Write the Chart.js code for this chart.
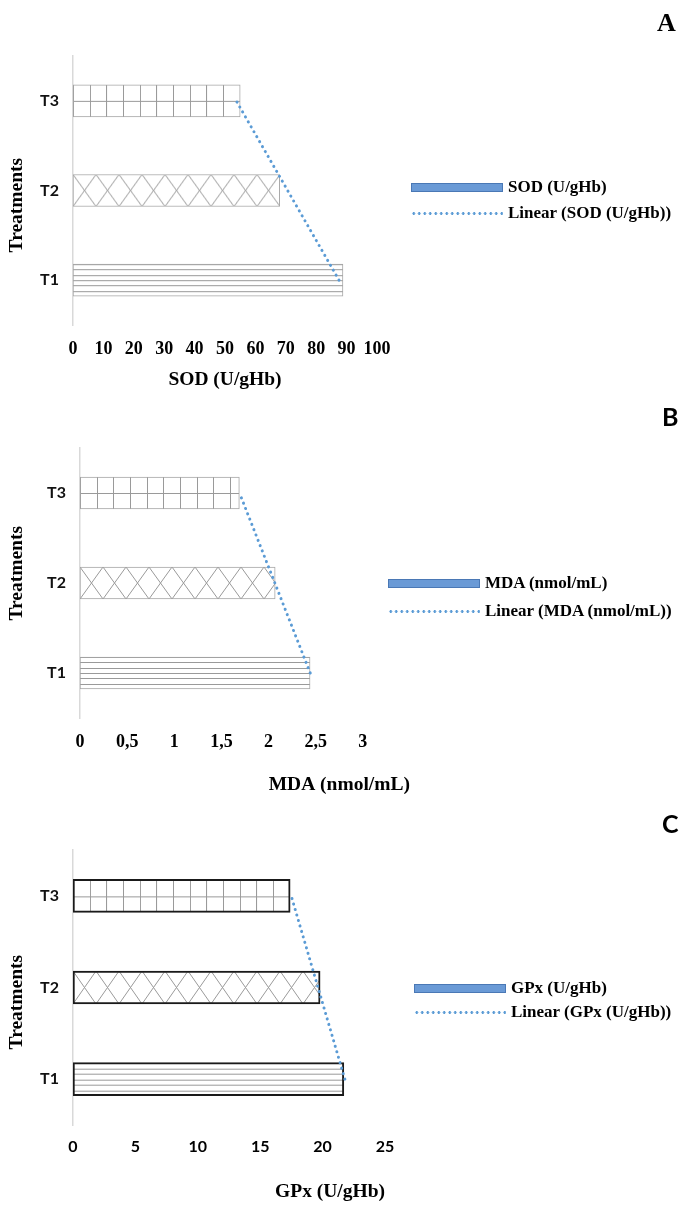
<!DOCTYPE html>
<html lang="en">
<head>
<meta charset="UTF-8">
<title>SOD, MDA and GPx by treatment</title>
<script src="https://cdn.jsdelivr.net/npm/chart.js"></script>
<style>
  body { margin: 0; background: #fff; }
  #page { position: relative; width: 684px; height: 1207px; overflow: hidden; }
  #page canvas { position: absolute; left: 0; }
  .tag { position: absolute; line-height: 1; color: #000; }
  .legend-row { position: absolute; display: flex; align-items: center; height: 20px;
                font: bold 17px "Liberation Serif", "Times New Roman", serif; color: #000; white-space: nowrap; }
  .swatch-bar { width: 92px; height: 9px; box-sizing: border-box; margin-right: 5px;
                background: #6a9ad6; border: 1px solid #4a78b5; }
  .swatch-dots { width: 92px; height: 3px; margin-right: 5px;
                 background: radial-gradient(circle, #5b9bd5 1.2px, transparent 1.6px) 0 0 / 5.5px 3px repeat-x; }
</style>
</head>
<body>
<div id="page">
  <canvas id="chartA" width="684" height="400" style="top:0px"></canvas>
  <canvas id="chartB" width="684" height="410" style="top:400px"></canvas>
  <canvas id="chartC" width="684" height="397" style="top:810px"></canvas>

  <div class="tag" style="left:657px;top:8px;font:bold 26px 'Liberation Serif',serif">A</div>
  <div class="tag" style="left:662px;top:401px;font:bold 25px Lato,sans-serif">B</div>
  <div class="tag" style="left:662px;top:808px;font:bold 25px Lato,sans-serif">C</div>

  <div id="legendA"></div>
  <div id="legendB"></div>
  <div id="legendC"></div>
</div>

<script>
// data (order T1, T2, T3)
const treatments = ['T1', 'T2', 'T3'];
const treatmentHatch = ['lines', 'diamonds', 'grid'];

const sodValues = [88.8, 68.0, 55.0];
const mdaValues = [2.44, 2.07, 1.69];
const gpxValues = [21.7, 19.8, 17.4];

const sodTicks = [0, 10, 20, 30, 40, 50, 60, 70, 80, 90, 100];
const mdaTicks = [0, 0.5, 1, 1.5, 2, 2.5, 3];
const gpxTicks = [0, 5, 10, 15, 20, 25];

const FONT_SERIF = "'Liberation Serif', 'Times New Roman', serif";
const FONT_SANS = "Lato, 'Liberation Sans', sans-serif";
const TITLE_SIZE = 19.5;

// panel setup (page pixel positions)
const panels = [
  {
    canvas: 'chartA', legend: 'legendA', top: 0,
    name: 'SOD (U/gHb)', values: sodValues, ticks: sodTicks, max: 100,
    area: { left: 73, right: 377, top: 56, bottom: 325 },
    tickFont: { family: FONT_SERIF, size: 18, weight: 'bold' }, tickPad: 6,
    titleY: 380, titleAlign: 'center', yTitle: 'Treatments' + '\u2002'.repeat(3),
    barSize: 32, edge: '#a6a6a6', edgeWidth: 1,
    legendPos: { left: 411, rows: [187, 213] }
  },
  {
    canvas: 'chartB', legend: 'legendB', top: 400,
    name: 'MDA (nmol/mL)', values: mdaValues, ticks: mdaTicks, max: 3.5,
    area: { left: 80, right: 410, top: 448, bottom: 718 },
    tickFont: { family: FONT_SERIF, size: 18, weight: 'bold' }, tickPad: 6,
    titleY: 785, titleAlign: 'end', yTitle: '\u2002'.repeat(2) + 'Treatments',
    barSize: 32, edge: '#a6a6a6', edgeWidth: 1,
    legendPos: { left: 388, rows: [583, 611] }
  },
  {
    canvas: 'chartC', legend: 'legendC', top: 810,
    name: 'GPx (U/gHb)', values: gpxValues, ticks: gpxTicks, max: 25,
    area: { left: 73, right: 385, top: 850, bottom: 1125 },
    tickFont: { family: FONT_SANS, size: 16, weight: 'bold' }, tickPad: 4,
    titleY: 1192, titleAlign: 'end', yTitle: 'Treatments' + '\u2002'.repeat(3),
    barSize: 33, edge: '#1a1a1a', edgeWidth: 2,
    legendPos: { left: 414, rows: [988, 1012] }
  }
];

// Excel style linear trendline (least squares over the category index)
function linearTrend(vals) {
  const n = vals.length;
  const xs = vals.map((v, i) => i + 1);
  const mx = xs.reduce((a, b) => a + b, 0) / n;
  const my = vals.reduce((a, b) => a + b, 0) / n;
  let sxy = 0, sxx = 0;
  xs.forEach((x, i) => {
    sxy += (x - mx) * (vals[i] - my);
    sxx += (x - mx) * (x - mx);
  });
  const slope = sxy / sxx;
  return xs.map(x => my + slope * (x - mx));
}

// hatch tiles like the Excel pattern fills
function makeTile(kind, h) {
  const t = document.createElement('canvas');
  t.width = kind === 'grid' ? 50 : kind === 'diamonds' ? 23 : 4;
  t.height = h;
  const g = t.getContext('2d');
  g.fillStyle = '#fff';
  g.fillRect(0, 0, t.width, h);
  g.strokeStyle = '#9a9a9a';
  g.lineWidth = 1;
  g.beginPath();
  if (kind === 'grid') {
    [0, 17, 33].forEach(x => { g.moveTo(x + 0.5, 0); g.lineTo(x + 0.5, h); });
    const mid = Math.round(h / 2) + 0.5;
    g.moveTo(0, mid); g.lineTo(t.width, mid);
  } else if (kind === 'diamonds') {
    [-23, 0, 23].forEach(dx => {
      g.moveTo(dx, 0); g.lineTo(dx + 23, h);
      g.moveTo(dx + 23, 0); g.lineTo(dx, h);
    });
  } else {
    for (let k = 0; k < 6; k++) {
      const y = Math.round(k * h / 6) + 0.5;
      g.moveTo(0, y); g.lineTo(t.width, y);
    }
  }
  g.stroke();
  return t;
}

function hatchFill(h) {
  const tiles = {};
  treatmentHatch.forEach(k => { tiles[k] = makeTile(k, h); });
  return function (ctx) {
    const chart = ctx.chart;
    const xs = chart.scales.x, ys = chart.scales.y;
    if (ctx.dataIndex === undefined || !xs || !ys) return '#fff';
    const p = chart.ctx.createPattern(tiles[treatmentHatch[ctx.dataIndex]], 'repeat');
    const y0 = ys.getPixelForValue(ctx.dataIndex) - h / 2;
    p.setTransform(new DOMMatrix().translate(xs.getPixelForValue(0), y0));
    return p;
  };
}

function buildLegend(chart, el, pos) {
  chart.data.datasets.forEach((ds, i) => {
    const row = document.createElement('div');
    row.className = 'legend-row';
    row.style.left = pos.left + 'px';
    row.style.top = (pos.rows[i] - 10) + 'px';
    const sw = document.createElement('span');
    sw.className = ds.type === 'line' ? 'swatch-dots' : 'swatch-bar';
    row.appendChild(sw);
    row.appendChild(document.createTextNode(ds.label));
    el.appendChild(row);
  });
}

panels.forEach(p => {
  const canvas = document.getElementById(p.canvas);
  const bottom = p.top + canvas.height;
  const lh = TITLE_SIZE * 1.2;

  const chart = new Chart(canvas, {
    type: 'bar',
    data: {
      labels: treatments,
      datasets: [
        {
          type: 'bar',
          label: p.name,
          data: p.values,
          backgroundColor: hatchFill(p.barSize),
          borderColor: p.edge,
          borderWidth: p.edgeWidth,
          borderSkipped: false,
          barThickness: p.barSize,
          order: 2
        },
        {
          type: 'line',
          label: 'Linear (' + p.name + ')',
          data: linearTrend(p.values),
          indexAxis: 'y',
          borderColor: '#5b9bd5',
          borderWidth: 3,
          borderDash: [0.1, 5.6],
          borderCapStyle: 'round',
          pointRadius: 0,
          fill: false,
          order: 1
        }
      ]
    },
    options: {
      indexAxis: 'y',
      responsive: false,
      animation: false,
      devicePixelRatio: 1,
      events: [],
      layout: {
        padding: { left: 0, top: p.area.top - p.top, right: 684 - p.area.right, bottom: 0 }
      },
      plugins: {
        legend: { display: false },
        tooltip: { enabled: false }
      },
      scales: {
        x: {
          type: 'linear',
          min: p.ticks[0],
          max: p.max,
          grid: { display: false },
          border: { display: false },
          ticks: {
            font: p.tickFont,
            color: '#000',
            padding: p.tickPad,
            maxRotation: 0,
            autoSkip: false,
            callback: v => String(v).replace('.', ',')
          },
          afterBuildTicks: s => { s.ticks = p.ticks.map(v => ({ value: v })); },
          title: {
            display: true,
            text: p.name,
            align: p.titleAlign,
            color: '#000',
            font: { family: FONT_SERIF, size: TITLE_SIZE, weight: 'bold' },
            padding: { top: 0, bottom: bottom - p.titleY - lh / 2 }
          },
          afterFit: s => {
            s.height = bottom - p.area.bottom;
            s.paddingLeft = 0;
            s.paddingRight = 0;
          }
        },
        y: {
          type: 'category',
          reverse: true,
          grid: { display: false },
          border: { display: true, color: '#d9d9d9', width: 1.5 },
          ticks: {
            font: { family: FONT_SANS, size: 16, weight: 'bold' },
            color: '#111',
            padding: 6
          },
          title: {
            display: true,
            text: p.yTitle,
            color: '#000',
            font: { family: FONT_SERIF, size: TITLE_SIZE, weight: 'bold' },
            padding: { top: 17 - lh / 2, bottom: 0 }
          },
          afterFit: s => {
            s.width = p.area.left;
            s.paddingTop = 0;
            s.paddingBottom = 0;
          }
        }
      }
    }
  });

  buildLegend(chart, document.getElementById(p.legend), p.legendPos);
});
</script>
</body>
</html>
